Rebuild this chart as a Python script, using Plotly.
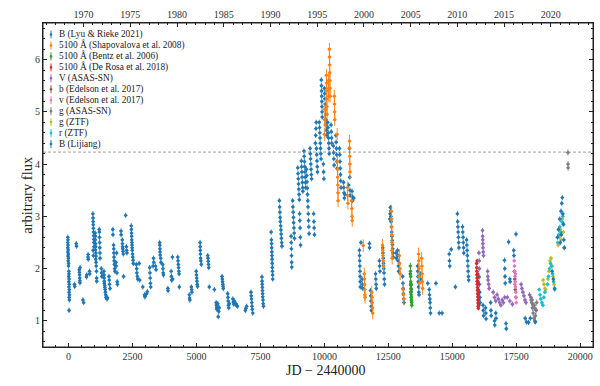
import plotly.graph_objects as go

# ---------------- data (JD-2440000, arbitrary flux) ----------------
lyu_rieke_B = [
    (-30,2.60),(-25,2.55),(-35,2.50),(-20,2.45),(-30,2.40),(-15,2.36),(-25,2.32),(-10,2.28),(-20,2.24),(-5,2.20),
    (-15,2.15),(0,2.10),(-5,2.05),(10,1.95),(15,1.90),(5,1.85),(20,1.80),(10,1.75),(25,1.70),(15,1.65),(30,1.60),
    (20,1.55),(35,1.50),(25,1.45),(30,1.40),(20,1.20),
    (230,1.70),(240,1.66),(300,2.48),(310,2.43),(420,1.98),(425,1.93),(430,1.88),(435,1.82),(440,1.77),(445,1.73),
    (450,2.02),(560,1.40),(590,1.35),(700,1.84),(710,1.88),(760,2.22),(765,2.27),(770,2.18),(820,1.95),(825,1.90),
    (950,3.05),(955,2.97),(960,2.90),(965,2.84),(970,2.77),(975,2.70),(980,2.63),(985,2.56),(990,2.50),(995,2.42),
    (960,2.35),(970,2.25),(1040,2.68),(1050,2.62),(1045,2.55),(1055,2.48),(1060,2.42),(1050,2.36),(1065,2.30),
    (1070,2.24),(1060,2.18),(1075,2.12),(1080,2.05),(1090,1.95),(1095,1.82),(1100,1.76),
    (1200,2.75),(1205,2.70),(1210,2.60),(1215,2.50),(1220,2.40),(1225,2.30),(1230,2.20),(1280,2.00),(1290,1.92),
    (1300,1.85),(1380,1.95),(1385,1.88),(1390,1.82),(1395,1.76),(1400,1.72),(1410,1.68),(1420,1.64),(1430,1.60),
    (1440,1.55),(1450,1.50),(1460,1.45),(1500,1.42),(1520,1.44),(1580,1.85),(1590,1.78),(1600,1.70),(1620,1.62),
    (1730,2.75),(1735,2.65),(1760,2.45),(1765,2.38),(1770,2.30),(1775,2.22),(1780,2.15),(1790,2.08),(1800,2.00),
    (1810,1.95),(1850,2.12),(1860,2.05),(1880,2.30),(1890,1.92),(1900,1.75),(1910,1.70),
    (2050,2.72),(2055,2.65),(2100,2.55),(2105,2.48),(2110,2.42),(2120,2.38),(2130,2.33),(2140,2.28),(2150,1.85),
    (2230,3.02),(2260,2.42),(2270,2.35),(2280,2.30),
    (2450,2.82),(2455,2.75),(2460,2.68),(2465,2.62),(2470,2.55),(2475,2.50),(2480,2.45),(2485,2.40),(2490,2.35),
    (2500,2.28),(2510,2.22),(2520,2.16),(2530,2.10),(2650,2.08),(2660,2.00),(2670,1.92),(2690,1.85),(2700,1.80),
    (2760,2.10),(2780,1.78),(2900,1.65),(2970,1.50),(2980,1.46),(3000,1.48),(3050,1.52),(3080,1.56),
    (3170,2.02),(3180,1.92),(3190,1.82),(3200,1.72),(3210,1.65),(3300,2.05),(3320,2.20),(3330,2.12),(3400,2.05),
    (3420,1.98),(3560,2.50),(3565,2.45),(3570,2.38),(3575,2.32),(3580,2.26),(3600,2.20),(3610,2.12),(3680,2.08),
    (3690,2.00),(3700,1.92),(3710,1.88),(3880,1.62),(3890,1.58),(4010,1.95),(4020,1.85),(4030,1.78),(4060,2.22),
    (4070,1.80),(4270,2.22),(4280,2.15),(4290,2.08),(4300,2.02),(4310,1.95),(4320,1.90),(4330,1.65),
    (4720,1.50),(4730,1.44),(4740,1.40),(4800,1.65),(4810,1.60),(4820,1.55),
    (4990,1.95),(5000,1.88),(5010,1.82),(5020,1.76),(5030,1.70),(5040,1.66),(5140,2.50),(5145,2.42),(5150,2.35),
    (5155,2.28),(5160,2.20),(5170,2.15),(5190,2.08),(5440,2.25),(5450,2.20),(5460,2.14),(5470,2.08),(5480,2.02),
    (5500,1.65),(5700,1.60),(5770,1.35),(5780,1.30),(5790,1.25),(5800,1.22),(5810,1.28),(5830,1.33),(5850,1.08),
    (5870,1.18),(5890,1.25),(6000,1.85),(6010,1.80),(6020,1.75),(6030,1.70),(6040,1.66),(6050,1.62),
    (6220,1.52),(6230,1.45),(6240,1.38),(6250,1.30),(6260,1.25),(6280,1.33),(6420,1.42),(6440,1.36),(6460,1.32),
    (6480,1.38),(6540,1.33),(6560,1.30),(6600,1.28),(6910,1.20),(6930,1.24),(6960,1.28),
    (7130,1.55),(7140,1.48),(7150,1.42),(7160,1.35),(7170,1.28),(7180,1.22),(7200,1.15),
    (7560,1.84),(7565,1.76),(7570,1.70),(7575,1.64),(7580,1.58),(7585,1.52),(7590,1.46),(7600,1.40),(7610,1.33),
    (7620,1.28),(7920,2.70),(7930,2.55),(7935,2.48),(7940,2.40),(7945,2.32),(7950,2.25),(7955,2.18),(7960,2.10),
    (7965,2.02),(7970,1.95),(7975,1.88),(7980,1.80),
    (8240,3.30),(8250,3.18),(8260,3.08),(8270,2.98),(8280,2.90),(8290,2.82),(8300,2.74),(8310,2.66),(8320,2.58),
    (8330,2.50),(8340,2.43),(8700,2.62),(8705,2.50),(8710,2.38),(8715,2.25),(8720,2.12),(8725,2.03),
    (8760,3.30),(8770,3.18),(8780,3.08),(8790,2.98),(8800,2.88),(8810,2.78),(8820,2.68),(8830,2.58),
    (8960,3.93),(8970,3.82),(8980,3.72),(8990,3.62),(9000,3.52),(9010,3.42),(9020,3.32),(9030,3.05),(9040,2.92),
    (9050,2.78),(9060,2.60),(9070,2.45),(9100,4.06),(9110,3.95),(9120,3.85),(9130,3.75),(9140,3.65),(9150,3.55),
    (9160,3.48),(9200,4.25),(9210,4.15),(9220,4.05),(9230,3.95),(9240,3.85),(9250,3.75),(9260,3.65),(9270,3.55),
    (9300,3.90),(9310,3.78),(9320,3.66),(9330,3.54),(9340,3.42),(9350,3.30),(9360,3.18),(9370,3.05),(9380,2.92),
    (9390,2.80),(9400,2.67),(9440,4.30),(9450,4.20),(9460,4.10),(9470,4.00),(9480,3.90),(9490,3.80),(9500,3.72),
    (9580,3.05),(9590,2.90),(9600,2.78),(9610,2.65),(9650,4.40),(9660,4.55),(9670,4.68),(9680,4.80),(9690,4.30),
    (9700,4.18),(9710,4.06),(9720,3.95),(9730,3.85),(9800,4.80),(9810,4.70),(9820,4.60),(9830,4.50),(9840,4.40),
    (9850,4.30),(9860,4.20),(9870,4.10),(9880,5.61),(9885,5.50),(9890,5.40),(9895,5.30),(9900,5.20),(9905,5.10),
    (9910,5.00),(9915,4.90),(9960,4.00),(9970,3.85),(9980,3.72),
    (10000,5.45),(10010,5.35),(10020,5.25),(10030,5.15),(10040,5.05),(10050,4.95),(10060,4.85),(10070,4.75),
    (10080,4.65),(10090,4.55),(10130,4.80),(10140,4.70),(10150,4.60),(10160,4.50),(10170,4.40),(10180,4.30),
    (10190,4.20),(10260,4.75),(10270,4.62),(10280,4.50),(10290,4.40),(10350,4.35),(10360,4.22),(10370,4.10),
    (10380,3.98),(10450,4.55),(10460,4.42),(10470,4.30),(10480,4.18),(10490,4.05),(10500,3.92),
    (10590,4.30),(10600,4.18),(10610,4.05),(10620,3.92),(10630,3.80),(10640,3.68),(10650,3.55),
    (10750,3.65),(10760,3.55),(10770,3.45),(10780,3.35),(10800,3.42),(10950,3.60),(10980,4.30),(10990,3.75),
    (11000,3.50),(11010,3.40),(11080,3.48),(11090,3.38),(11100,3.30),(11150,3.35),
    (11370,2.35),(11375,2.25),(11380,2.15),(11385,2.05),(11390,1.95),(11395,1.85),(11400,1.75),(11405,1.65),
    (11430,2.50),(11480,1.80),(11490,1.70),(11500,1.62),(11760,2.48),(11765,2.40),
    (11800,1.58),(11810,1.48),(11820,1.38),(11830,1.28),(11840,1.20),(12000,1.90),(12010,1.80),(12020,1.70),
    (12030,1.62),(12150,2.15),(12160,2.05),(12170,1.95),(12280,2.40),(12290,2.30),(12300,2.20),(12310,2.10),
    (12320,2.00),(12330,1.92),(12340,1.80),(12350,1.70),
    (12560,2.95),(12570,3.05),(12580,3.17),(12590,3.10),(12600,3.00),(12610,2.90),(12620,2.80),(12630,2.70),
    (12640,2.62),(12650,2.54),(12660,2.46),(12670,2.38),(12680,2.30),(12690,2.22),(12800,2.30),(12810,2.20),
    (12860,2.35),(12870,2.25),(12880,2.15),(12890,2.05),(12900,1.95),
    (13060,1.85),(13070,1.72),(13080,1.62),(13090,1.52),(13100,1.42),(13110,1.35),(13360,1.90),(13370,1.70),
    (13380,1.55),(13640,2.05),(13650,1.95),(13660,1.85),(13670,1.75),(13680,1.65),(13690,1.55),(13700,1.50),
    (13760,1.90),(13770,1.80),(14040,1.72),(14100,1.60),(14110,1.50),(14120,1.42),(14130,1.35),(14140,1.25),
    (14150,1.15),(14360,1.72),(14490,1.15),(14600,1.15),
    (14880,2.28),(14890,2.15),(14900,2.05),(14960,2.37),(15120,1.65),
    (15200,3.05),(15210,2.90),(15220,2.80),(15230,2.70),(15240,2.60),(15250,2.50),(15260,2.40),
    (15400,2.80),(15410,2.70),(15420,2.60),(15430,2.50),(15440,2.40),(15450,2.30),
    (15560,2.55),(15570,2.45),(15580,2.35),(15590,2.25),(15600,2.15),(15610,2.05),(15620,1.95),(15630,1.85),
    (15640,1.78),
    (16050,1.84),(16060,1.70),(16070,1.55),(16080,1.45),(16090,1.35),(16200,1.30),(16210,1.20),(16220,1.10),
    (16300,1.25),(16310,1.15),(16320,1.04),(16500,1.35),(16510,1.20),(16520,1.10),(16650,1.00),(16660,0.92),
    (16700,1.15),(16710,1.05),(17040,2.16),(17050,2.00),(17060,1.85),(17070,1.72),(17100,0.95),(17110,0.85),
    (17200,2.51),(17250,1.80),(17260,1.75),(17400,2.35),(17410,2.25),(17490,2.66),(17850,1.05),(17900,0.98),
    (17980,0.97),
]

shapovalova_5100 = [
    (10000,4.57),(10010,4.85),(10020,5.05),(10030,4.75),(10080,5.70),(10085,5.55),(10090,5.40),(10095,5.25),
    (10100,5.10),(10105,4.95),(10160,5.60),(10165,5.45),(10170,5.30),(10195,6.20),(10200,6.05),(10205,5.90),
    (10210,5.75),(10215,5.60),(10220,5.45),(10225,5.30),(10390,5.30),(10395,5.15),(10400,5.00),(10405,4.85),
    (10500,4.57),(10510,4.05),(10515,3.90),(10520,3.75),(10525,3.60),(10530,3.45),(10535,3.30),
    (10900,3.55),(10910,3.40),(10920,3.25),(10980,4.44),(10985,4.31),(10990,4.15),(10995,4.00),(11000,3.85),
    (11060,3.30),(11070,3.15),(11080,3.00),(11090,2.92),
    (11520,2.44),(11560,1.90),(11565,1.80),(11570,1.70),(11575,1.60),(11580,1.50),(11590,1.45),
    (11850,1.55),(11860,1.45),(11870,1.35),(11880,1.25),(11890,1.15),
    (12270,2.45),(12280,2.35),(12290,2.25),(12300,2.15),(12310,2.05),
    (12620,3.10),(12625,2.95),(12630,2.80),(12635,2.65),(12640,2.50),(12645,2.35),(12650,2.20),
    (12930,2.25),(12940,2.10),(12950,2.00),(12960,1.90),(13080,1.60),(13090,1.50),(13100,1.42),
    (13680,2.28),(13690,2.15),(13700,2.00),(13710,1.85),(13720,1.72),(13800,2.20),(13810,2.05),(13820,1.90),
    (13830,1.75),(13840,1.62),
]

bentz_5100 = [
    (13360,2.05),(13365,1.95),(13370,1.85),(13375,1.75),(13380,1.68),(13385,1.62),(13390,1.56),(13395,1.50),
    (13400,1.45),(13405,1.40),(13410,1.35),(13415,1.30),(13380,1.55),(13390,1.70),(13400,1.60),(13395,1.45),
    (13405,1.38),
]

derosa_5100 = [
    (15950,2.10),(15955,2.02),(15960,1.95),(15965,1.88),(15970,1.82),(15975,1.76),(15980,1.70),(15985,1.64),
    (15990,1.58),(15995,1.52),(16000,1.46),(16005,1.40),(16010,1.34),(16015,1.28),(16020,1.24),(15992,1.90),
    (16000,1.75),(16008,1.60),(16015,1.50),(16025,1.40),(15975,2.15),(16030,1.30),
]

asassn_V = [
    (16040,2.30),(16050,2.15),(16060,2.00),
    (16180,2.73),(16185,2.62),(16190,2.55),(16195,2.48),(16200,2.40),(16210,2.32),(16220,2.25),
    (16380,1.95),(16390,1.85),(16400,1.78),(16420,1.70),(16440,1.62),
    (16600,1.55),(16650,1.45),(16700,1.38),(16750,1.50),(16800,1.42),(16850,1.35),(16900,1.30),(16950,1.40),
    (17000,1.35),(17050,1.45),(17150,1.45),(17250,1.38),(17350,1.32),
    (17690,1.70),(17720,1.62),(17760,1.55),(17800,1.48),(17840,1.40),(17880,1.35),
    (18020,1.50),(18080,1.40),(18140,1.32),(18200,1.25),(18260,1.22),
]

edelson_b = [(17425,1.95),(17445,1.80),(17465,1.60),(17485,1.45)]

edelson_v = [
    (17420,2.15),(17430,2.05),(17440,1.95),(17450,1.85),(17460,1.75),(17470,1.65),(17480,1.55),(17490,1.45),
    (17500,1.35),(17440,1.70),(17470,1.90),
]

asassn_g = [
    (18070,1.45),(18100,1.35),(18130,1.25),(18160,1.15),(18190,1.05),(18220,1.00),(18250,1.10),(18280,1.20),
    (18120,1.40),(18200,1.30),(18300,1.35),(19520,4.22),(19525,4.00),(19528,3.93),
]

ztf_g = [
    (18550,1.78),(18580,1.70),(18620,1.62),(18650,1.60),(18740,1.80),(18780,1.95),(18820,2.15),(18860,2.20),
    (18900,2.05),(18940,1.85),(18980,1.70),(19140,2.45),(19180,2.60),(19220,2.75),(19260,2.55),(19300,2.95),
    (19340,2.70),(19370,2.40),
]

ztf_r = [
    (18400,1.60),(18430,1.50),(18460,1.42),(18500,1.35),(18540,1.30),(18580,1.45),(18620,1.55),(18720,1.70),
    (18760,1.85),(18800,2.00),(18840,2.10),(18880,2.05),(18920,1.90),(18960,1.75),(19000,1.60),(19120,2.50),
    (19160,2.65),(19200,2.80),(19240,2.70),(19280,2.90),(19320,3.00),(19350,2.85),
]

lijiang_B = [
    (18050,1.05),(18250,0.98),(18900,1.95),(18950,1.80),(19000,1.62),(19110,2.60),(19150,2.75),(19200,2.95),
    (19250,3.10),(19280,3.25),(19300,3.36),(19320,3.05),(19340,2.85),(19360,2.55),(19380,2.40),(19220,2.50),
    (19260,2.65),
]

series_names = [
    "B (Lyu &amp; Rieke 2021)", "5100 Å (Shapovalova et al. 2008)", "5100 Å (Bentz et al. 2006)",
    "5100 Å (De Rosa et al. 2018)", "V (ASAS-SN)", "b (Edelson et al. 2017)", "v (Edelson et al. 2017)",
    "g (ASAS-SN)", "g (ZTF)", "r (ZTF)", "B (Lijiang)",
]
series_data = [lyu_rieke_B, shapovalova_5100, bentz_5100, derosa_5100, asassn_V, edelson_b, edelson_v,
               asassn_g, ztf_g, ztf_r, lijiang_B]
series_colors = ["#1f77b4", "#ff7f0e", "#2ca02c", "#d62728", "#9467bd", "#8c564b", "#e377c2",
                 "#7f7f7f", "#bcbd22", "#17becf", "#1f77b4"]
series_err = [0.05, 0.12, 0.06, 0.04, 0.05, 0.04, 0.04, 0.06, 0.04, 0.04, 0.05]

year_ticks = [1970, 1975, 1980, 1985, 1990, 1995, 2000, 2005, 2010, 2015, 2020]
threshold_flux = 4.23

x_range = [-1000, 20500]
y_range = [0.5, 6.7]
JD_1970 = 587.5  # JD-2440000 at 1970.0
year_range = [1970 + (x_range[0] - JD_1970) / 365.25, 1970 + (x_range[1] - JD_1970) / 365.25]

FONT = "Liberation Serif"
AX = "#222222"

fig = go.Figure()
for name, data, col, err in zip(series_names, series_data, series_colors, series_err):
    xs = [p[0] for p in data]
    ys = [p[1] for p in data]
    fig.add_trace(go.Scatter(
        x=xs, y=ys, mode="markers", name=name, showlegend=False, cliponaxis=True,
        marker=dict(color=col, size=3.2, line=dict(width=0)),
        error_y=dict(type="constant", value=err, color=col, thickness=0.9, width=0),
        error_x=dict(type="constant", value=70, color=col, thickness=0.9, width=0),
    ))

# empty trace so that the top (year) axis is drawn
fig.add_trace(go.Scatter(x=year_ticks, y=[None] * len(year_ticks), xaxis="x2", yaxis="y",
                         mode="markers", showlegend=False, hoverinfo="skip"))

# dashed horizontal line
fig.add_hline(y=threshold_flux, line=dict(color="#777777", width=0.7, dash="3px,2px"))

# frame around the plot area
fig.add_shape(type="rect", xref="paper", yref="paper", x0=0, x1=1, y0=0, y1=1,
              line=dict(color=AX, width=1), fillcolor="rgba(0,0,0,0)", layer="above")

# manual legend
L, R, T, B = 43, 7, 23, 39
W, H = 600 - L - R, 386 - T - B
for i, (name, col) in enumerate(zip(series_names, series_colors)):
    py = 34.5 + 10.95 * i
    yp = (386 - B - py) / H
    xs = (51 - L) / W
    fig.add_shape(type="line", xref="paper", yref="paper", x0=xs, x1=xs,
                  y0=yp - 4 / H, y1=yp + 4 / H, line=dict(color=col, width=1))
    fig.add_shape(type="circle", xref="paper", yref="paper", x0=xs - 1.3 / W, x1=xs + 1.3 / W,
                  y0=yp - 1.3 / H, y1=yp + 1.3 / H, fillcolor=col, line=dict(width=0))
    fig.add_annotation(text=name, xref="paper", yref="paper", x=(57 - L) / W, y=yp,
                       xanchor="left", yanchor="middle", showarrow=False,
                       font=dict(family=FONT, size=9.3, color="#222"))

# axis titles
fig.add_annotation(text="arbitrary flux", xref="paper", yref="paper", x=(27 - L) / W, y=0.47,
                   textangle=-90, showarrow=False, xanchor="center", yanchor="middle",
                   font=dict(family=FONT, size=14.5, color="#222"))
fig.add_annotation(text="JD − 2440000", xref="paper", yref="paper", x=(325 - L) / W, y=-(371 - (386 - B)) / H,
                   showarrow=False, xanchor="center", yanchor="middle",
                   font=dict(family=FONT, size=14, color="#222"))

tick_font = dict(family=FONT, size=10, color="#333")
fig.update_layout(
    width=600, height=386, margin=dict(l=L, r=R, t=T, b=B, autoexpand=False),
    paper_bgcolor="white", plot_bgcolor="white", showlegend=False,
    xaxis=dict(range=x_range, tick0=0, dtick=2500, tickformat="d", ticks="inside", ticklen=4,
               tickcolor=AX, showline=True, linecolor=AX, linewidth=0.9, mirror=True,
               showgrid=False, zeroline=False, tickfont=tick_font, automargin=False,
               minor=dict(dtick=500, ticks="inside", ticklen=2, tickcolor=AX)),
    xaxis2=dict(overlaying="x", side="top", anchor="y", range=year_range,
                tickvals=year_ticks, ticks="inside", ticklen=4, tickcolor=AX,
                showline=True, linecolor=AX, linewidth=0.9,
                showgrid=False, zeroline=False, tickfont=tick_font, automargin=False,
                minor=dict(dtick=1, tick0=1970, ticks="inside", ticklen=2, tickcolor=AX)),
    yaxis=dict(range=y_range, tickvals=[1, 2, 3, 4, 5, 6], ticks="inside", ticklen=4, tickcolor=AX,
               showline=True, linecolor=AX, linewidth=0.9, mirror="ticks",
               showgrid=False, zeroline=False, tickfont=tick_font, automargin=False,
               minor=dict(dtick=0.2, tick0=0, ticks="inside", ticklen=2, tickcolor=AX)),
)

fig.write_html("out.html", config={"displayModeBar": False},
               post_script="document.body.style.margin='0';")
